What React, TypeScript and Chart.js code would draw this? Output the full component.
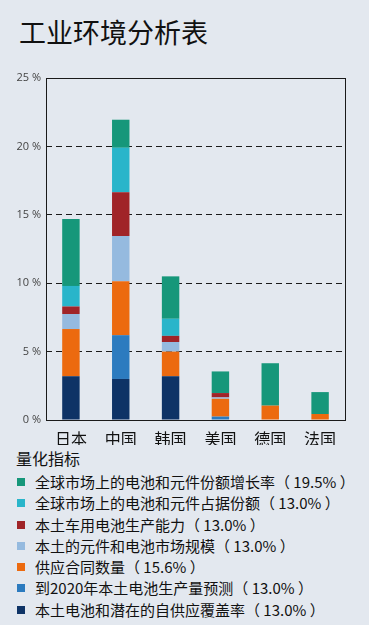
import React, { useEffect, useRef } from "react";
import { Chart, registerables } from "chart.js";

Chart.register(...registerables);

const title = "工业环境分析表";
const legendTitle = "量化指标";
const categories = ["日本", "中国", "韩国", "美国", "德国", "法国"];
const yTicks = [0, 5, 10, 15, 20, 25];

// stack order: bottom first
const seriesNames = [
  "本土电池和潜在的自供应覆盖率（ 13.0% ）",
  "到2020年本土电池生产量预测（ 13.0% ）",
  "供应合同数量（ 15.6% ）",
  "本土的元件和电池市场规模（ 13.0% ）",
  "本土车用电池生产能力（ 13.0% ）",
  "全球市场上的电池和元件占据份额（ 13.0% ）",
  "全球市场上的电池和元件份额增长率（ 19.5% ）",
];
const navyValues = [3.2, 3.0, 3.2, 0, 0, 0];
const blueValues = [0, 3.2, 0, 0.25, 0, 0];
const orangeValues = [3.45, 3.95, 1.8, 1.3, 1.05, 0.44];
const lightBlueValues = [1.1, 3.3, 0.7, 0.1, 0, 0];
const redValues = [0.55, 3.2, 0.45, 0.32, 0, 0];
const cyanValues = [1.5, 3.25, 1.25, 0, 0, 0];
const greenValues = [4.9, 2.05, 3.1, 1.58, 3.1, 1.6];
const seriesValues = [navyValues, blueValues, orangeValues, lightBlueValues, redValues, cyanValues, greenValues];
const seriesColors = ["#0e3366", "#2c7bbf", "#ec6a0f", "#95badf", "#a02428", "#29b5ca", "#16977a"];

const boxPlugin = {
  id: "box",
  afterDraw(chart: any) {
    const { ctx, chartArea } = chart;
    ctx.save();
    ctx.strokeStyle = "#1a1a1a";
    ctx.lineWidth = 1;
    ctx.setLineDash([]);
    ctx.strokeRect(
      Math.round(chartArea.left) + 0.5,
      Math.round(chartArea.top) + 0.5,
      Math.round(chartArea.right - chartArea.left),
      Math.round(chartArea.bottom - chartArea.top)
    );
    ctx.restore();
  },
};

function BarChart() {
  const ref = useRef<HTMLCanvasElement>(null);
  useEffect(() => {
    if (!ref.current) return;
    const chart = new Chart(ref.current, {
      type: "bar",
      data: {
        labels: categories,
        datasets: seriesNames.map((name, i) => ({
          label: name,
          data: seriesValues[i],
          backgroundColor: seriesColors[i],
          borderWidth: 0,
          barPercentage: 0.7,
          categoryPercentage: 0.5,
        })),
      },
      options: {
        responsive: false,
        animation: false,
        layout: { padding: { top: 18, right: 24, left: 0, bottom: 0 } },
        plugins: { legend: { display: false }, tooltip: { enabled: false } },
        scales: {
          x: {
            stacked: true,
            grid: { display: false },
            border: { display: false },
            ticks: {
              color: "#111",
              padding: 1,
              font: { family: "'Noto Sans CJK SC'", size: 16 },
            },
            afterFit: (s: any) => {
              s.height = 25;
            },
          },
          y: {
            stacked: true,
            min: 0,
            max: 25,
            afterBuildTicks: (s: any) => {
              s.ticks = yTicks.map((v) => ({ value: v }));
            },
            ticks: {
              color: "#444",
              padding: 5,
              font: { family: "'Open Sans'", size: 11 },
              callback: (v: any) => v + " %",
            },
            grid: {
              drawTicks: false,
              color: (c: any) =>
                c.tick && (c.tick.value === 0 || c.tick.value === 25) ? "rgba(0,0,0,0)" : "#1a1a1a",
              lineWidth: 1,
            },
            border: { display: false, dash: [6, 4] },
            afterFit: (s: any) => {
              s.width = 46;
            },
          },
        },
      },
      plugins: [boxPlugin],
    });
    return () => chart.destroy();
  }, []);
  return <canvas ref={ref} width={369} height={385} style={{ display: "block" }} />;
}

export default function App() {
  const legendOrder = seriesNames.map((_, i) => i).reverse();
  return (
    <div
      style={{
        position: "absolute",
        left: 0,
        top: 0,
        width: 369,
        height: 625,
        background: "#e3e8ef",
        overflow: "hidden",
        fontFamily: "'Noto Sans CJK SC', sans-serif",
      }}
    >
      <div
        style={{
          position: "absolute",
          left: 19,
          top: 14,
          fontSize: 27,
          lineHeight: "36px",
          color: "#111",
        }}
      >
        {title}
      </div>
      <div style={{ position: "absolute", left: 0, top: 60 }}>
        <BarChart />
      </div>
      <div
        style={{
          position: "absolute",
          left: 16,
          top: 447,
          fontSize: 16,
          lineHeight: "22px",
          color: "#111",
        }}
      >
        {legendTitle}
      </div>
      <div style={{ position: "absolute", left: 0, top: 471 }}>
        {legendOrder.map((i) => (
          <div
            key={i}
            style={{
              position: "relative",
              height: 21.3,
              lineHeight: "21.3px",
              fontSize: 15,
              color: "#111",
              whiteSpace: "nowrap",
            }}
          >
            <span
              style={{
                position: "absolute",
                left: 17,
                top: 7,
                width: 8,
                height: 8,
                background: seriesColors[i],
              }}
            />
            <span style={{ position: "absolute", left: 35, top: 0 }}>{seriesNames[i]}</span>
          </div>
        ))}
      </div>
    </div>
  );
}
